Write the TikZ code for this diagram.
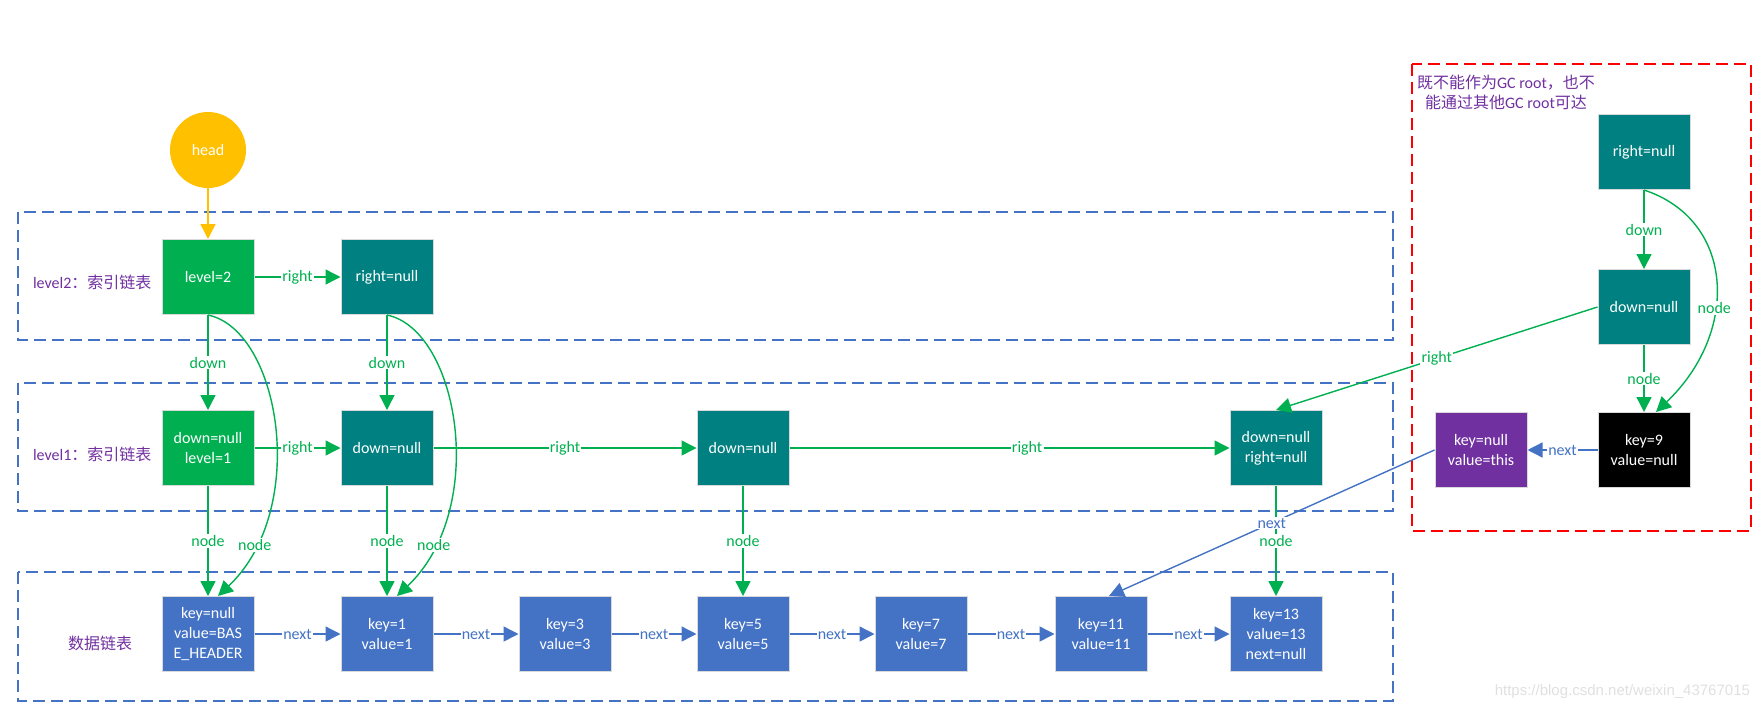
\documentclass[tikz,border=0pt]{standalone}
\usepackage{fontspec}
\setmainfont{Carlito}
\newfontfamily\cjk{Noto Sans CJK SC}
\newfontfamily\wmfont{Liberation Sans}
\usetikzlibrary{arrows.meta}
\definecolor{idxgreen}{HTML}{00B050}
\definecolor{ptrteal}{HTML}{008080}
\definecolor{datablue}{HTML}{4472C4}
\definecolor{gcpurple}{HTML}{7030A0}
\definecolor{headgold}{HTML}{FFC000}
\tikzset{
    block/.style={shape=rectangle, draw=black!15, line width=0.5pt, minimum width=46pt, minimum height=37.5pt,
        inner sep=1pt, align=center, text=white, font=\fontsize{8}{10}\selectfont},
    idx/.style={block, fill=idxgreen},
    ptr/.style={block, fill=ptrteal},
    entry/.style={block, fill=datablue},
    garrow/.style={draw=idxgreen, line width=0.7pt, -{Triangle[length=7.5pt, width=7.5pt]}},
    barrow/.style={draw=datablue, line width=0.7pt, -{Triangle[length=7.5pt, width=7.5pt]}},
    glabel/.style={fill=white, inner sep=0.6pt, text=idxgreen, font=\fontsize{8}{9}\selectfont},
    blabel/.style={glabel, text=datablue},
    area/.style={draw=datablue, line width=0.6pt, dash pattern=on 6pt off 3pt},
    lvltext/.style={text=gcpurple, font=\fontsize{8}{10}\selectfont}
}

\begin{document}
\begin{tikzpicture}[x=0.5pt, y=-0.5pt]
    \useasboundingbox (0,0) rectangle (1764,712);

    % areas
    \draw [area] (18,212) rectangle (1393,340);
    \draw [area] (18,383) rectangle (1393,511);
    \draw [area] (18,572) rectangle (1393,701);
    \draw [area, draw=red] (1412,64) rectangle (1751,531);

    % area texts
    \node [lvltext, anchor=west] at (26,282) {level2{\cjk ：索引链表}};
    \node [lvltext, anchor=west] at (26,454) {level1{\cjk ：索引链表}};
    \node [lvltext] at (100,643) {\cjk 数据链表};
    \node [lvltext, align=center] at (1506,92) {{\cjk 既不能作为}GC root{\cjk ，也不}\\{\cjk 能通过其他}GC root{\cjk 可达}};

    % nodes
    \node [circle, fill=headgold, minimum size=38pt, inner sep=0pt, text=white,
        font=\fontsize{8}{10}\selectfont] at (208,150) (head) {head};

    \node [idx] at (208,277) (l2a) {level=2};
    \node [ptr] at (387,277) (l2b) {right=null};

    \node [idx] at (208,448) (l1a) {down=null\\level=1};
    \node [ptr] at (387,448) (l1b) {down=null};
    \node [ptr] at (743,448) (l1c) {down=null};
    \node [ptr] at (1276,448) (l1d) {down=null\\right=null};

    \node [entry] at (208,634)  (d1) {key=null\\value=BAS\\E\_HEADER};
    \node [entry] at (387,634)  (d2) {key=1\\value=1};
    \node [entry] at (565,634)  (d3) {key=3\\value=3};
    \node [entry] at (743,634)  (d4) {key=5\\value=5};
    \node [entry] at (921,634)  (d5) {key=7\\value=7};
    \node [entry] at (1101,634) (d6) {key=11\\value=11};
    \node [entry] at (1276,634) (d7) {key=13\\value=13\\next=null};

    \node [ptr] at (1644,152) (gr) {right=null};
    \node [ptr] at (1644,307) (gd) {down=null};
    \node [block, fill=black] at (1644,450) (gk) {key=9\\value=null};
    \node [block, fill=gcpurple] at (1481,450) (gp) {key=null\\value=this};

    % watermark
    \node [anchor=east, text=black!12, font=\wmfont\fontsize{7.5}{9}\selectfont] at (1757,692) (wm)
        {https://blog.csdn.net/weixin\_43767015};

    % draw arrows
    \draw [garrow, draw=headgold] (head) -- (l2a);

    \begin{scope}[garrow]
        \draw (l2a) -- node [glabel] {right} (l2b);
        \draw (l2a) -- node [glabel] {down} (l1a);
        \draw (l2b) -- node [glabel] {down} (l1b);
        \draw (l2a.south) .. controls +(72,15) and +(92,-87) .. node [glabel, pos=0.83] {node} ([xshift=5pt]d1.north);
        \draw (l2b.south) .. controls +(72,15) and +(92,-87) .. node [glabel, pos=0.83] {node} ([xshift=5pt]d2.north);

        \draw (l1a) -- node [glabel] {right} (l1b);
        \draw (l1b) -- node [glabel] {right} (l1c);
        \draw (l1c) -- node [glabel, pos=0.54] {right} (l1d);
        \draw (l1a) -- node [glabel] {node} (d1);
        \draw (l1b) -- node [glabel] {node} (d2);
        \draw (l1c) -- node [glabel] {node} (d4);
        \draw (l1d) -- node [glabel] {node} (d7);

        \draw (gr) -- node [glabel] {down} (gd);
        \draw (gd) -- node [glabel] {node} (gk);
        \draw (gr.south) .. controls +(91,30) and +(84,-80) .. node [glabel, pos=0.6] {node} ([xshift=6pt]gk.north);
        \draw (gd.west) -- node [glabel] {right} (l1d.north);
    \end{scope}

    \begin{scope}[barrow]
        \draw (d1) -- node [blabel] {next} (d2);
        \draw (d2) -- node [blabel] {next} (d3);
        \draw (d3) -- node [blabel] {next} (d4);
        \draw (d4) -- node [blabel] {next} (d5);
        \draw (d5) -- node [blabel] {next} (d6);
        \draw (d6) -- node [blabel] {next} (d7);
        \draw (gk) -- node [blabel] {next} (gp);
        \draw (gp.west) -- node [blabel] {next} ([xshift=4pt]d6.north);
    \end{scope}
\end{tikzpicture}
\end{document}
